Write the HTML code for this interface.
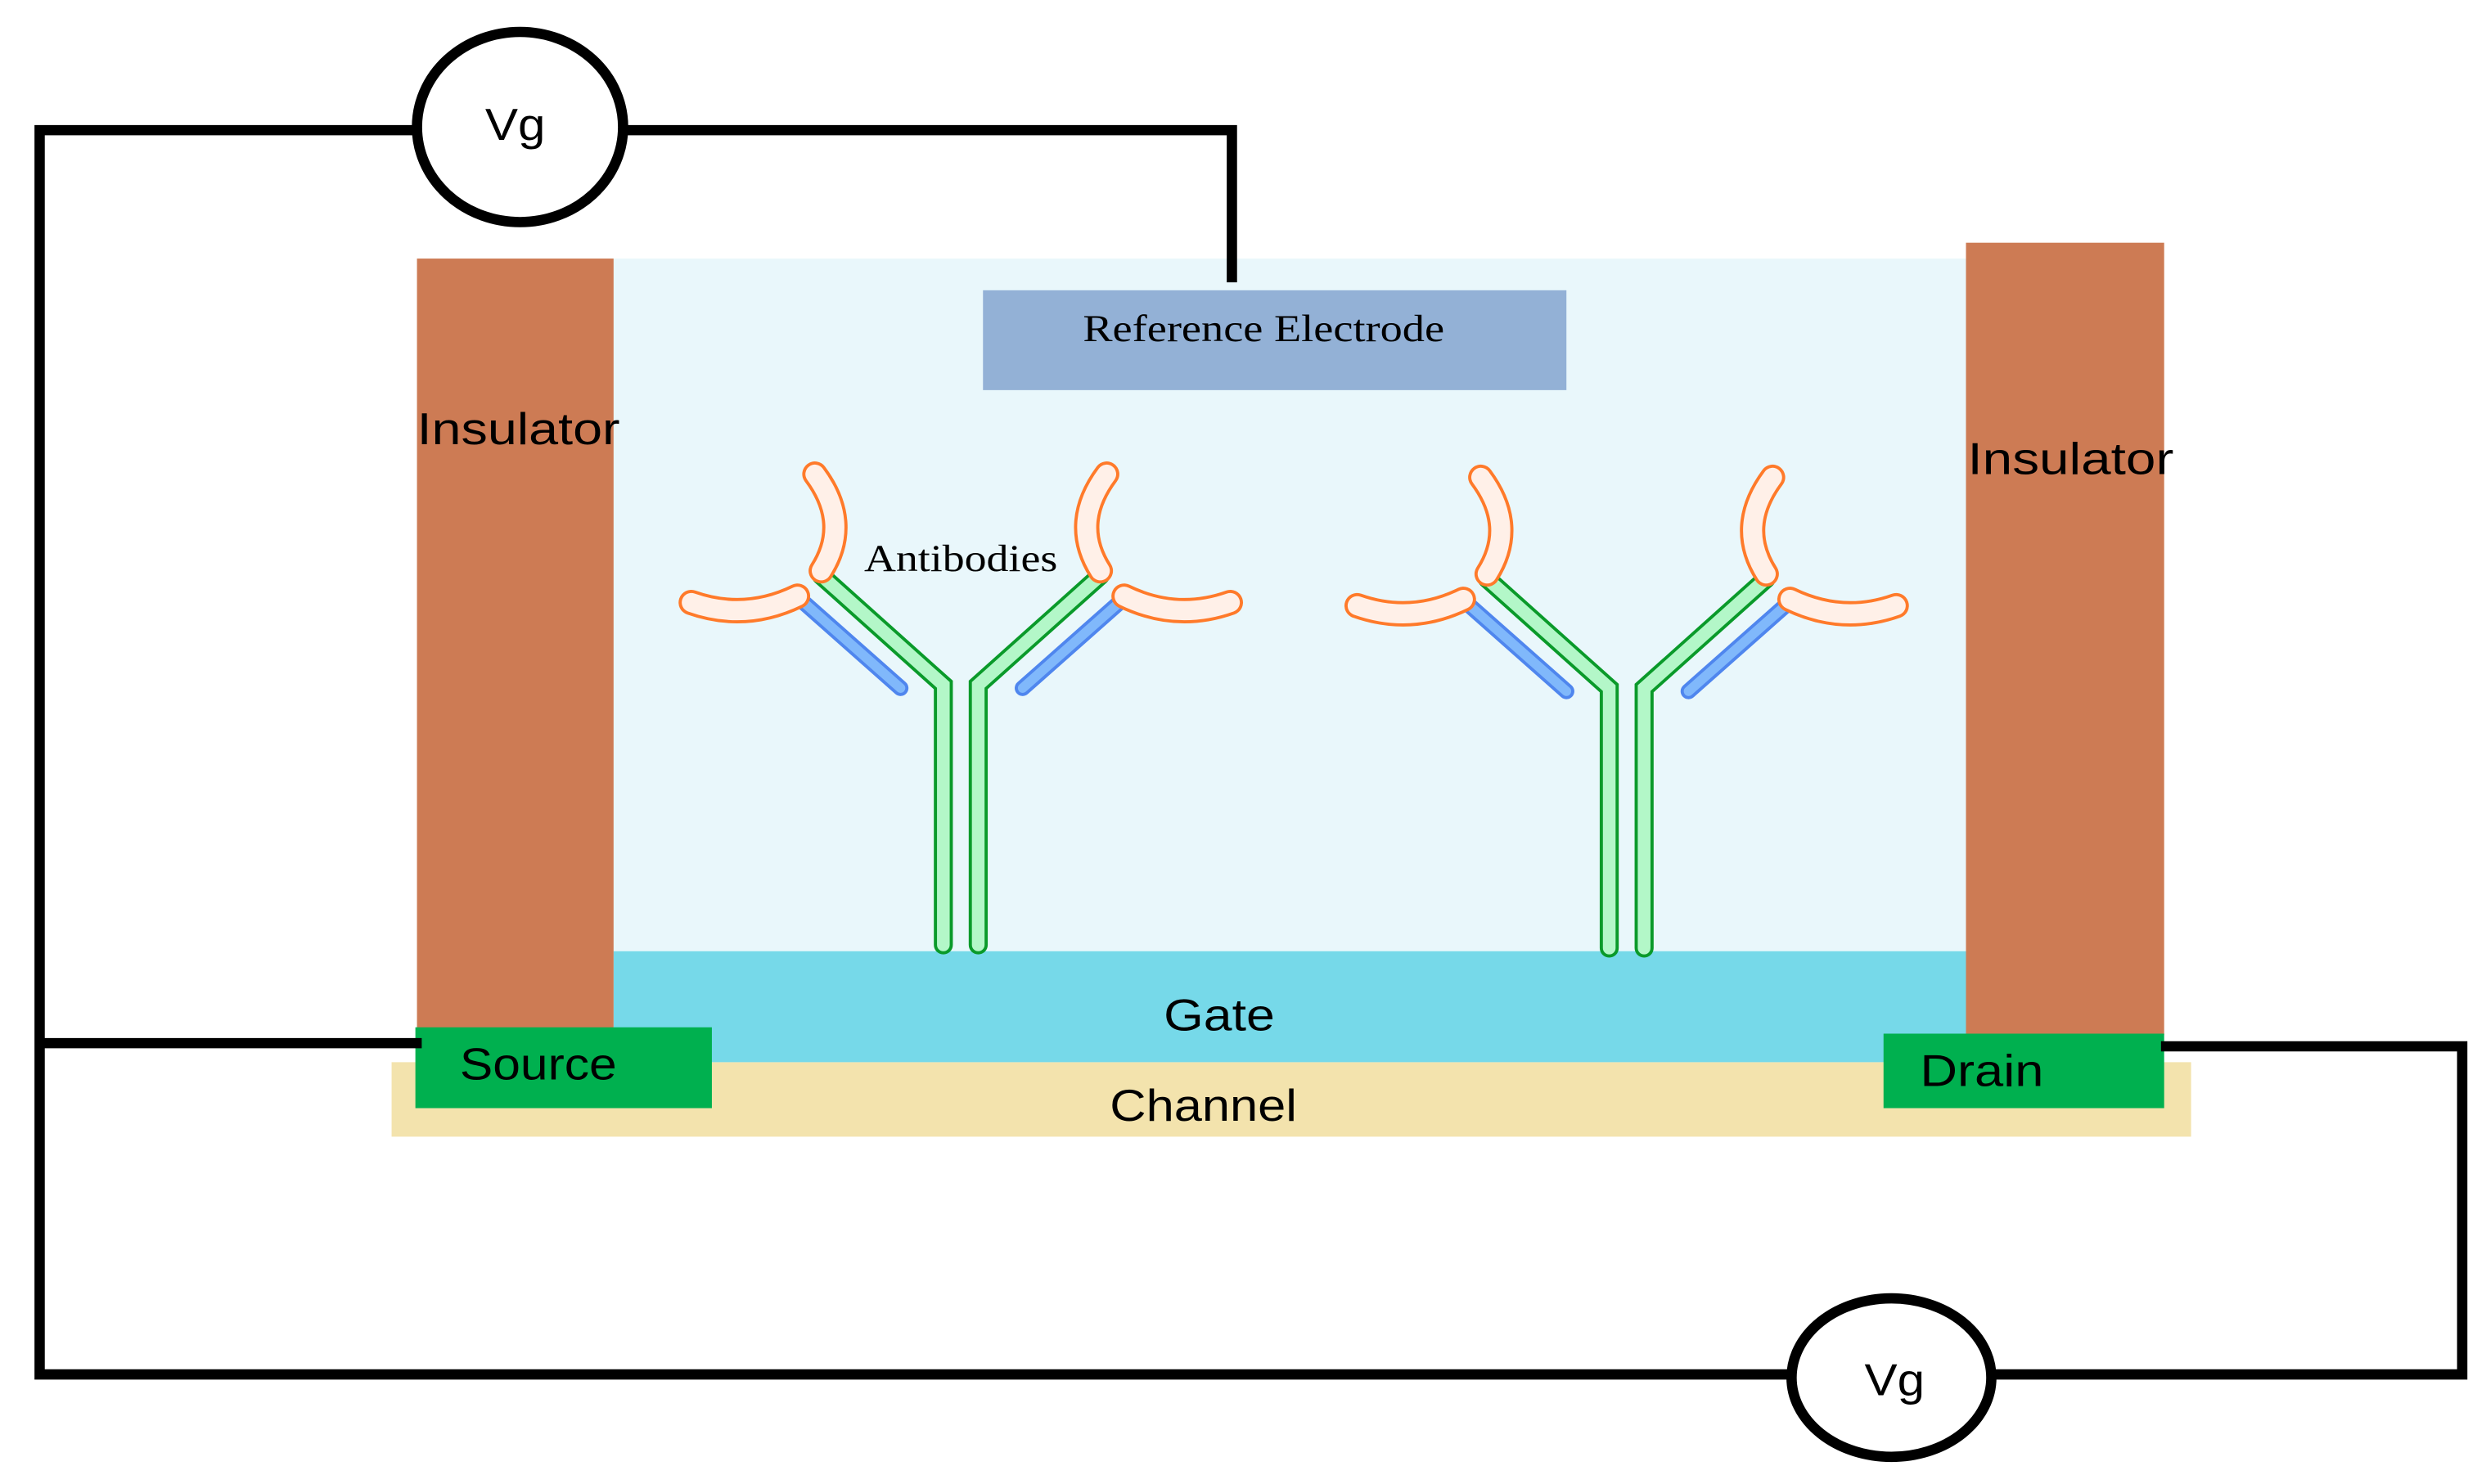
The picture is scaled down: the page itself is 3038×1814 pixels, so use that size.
<!DOCTYPE html>
<html><head><style>html,body{margin:0;padding:0;background:#fff}svg{display:block}</style></head>
<body>
<svg width="3038" height="1814" viewBox="0 0 1568 936" xmlns="http://www.w3.org/2000/svg" font-family="Liberation Sans, sans-serif">
<rect width="1568" height="936" fill="#fff"/>
<rect x="387" y="163" width="853" height="440" fill="#e9f7fb"/>
<rect x="247" y="670" width="1135" height="47" fill="#f3e3ad"/>
<rect x="387" y="600" width="853" height="70" fill="#76d9e9"/>
<rect x="263" y="163" width="124" height="486" fill="#cd7b54"/>
<rect x="1240" y="153" width="125" height="500" fill="#cd7b54"/>
<rect x="620" y="183" width="368" height="63" fill="#93b1d6"/>
<rect x="262" y="648" width="187" height="51" fill="#00b04f"/>
<rect x="1188" y="652" width="177" height="47" fill="#00b04f"/>
<g fill="none" stroke="#000" stroke-width="6.5" stroke-linejoin="miter">
<polyline points="262,82 25,82 25,867 1130,867"/>
<polyline points="1258,867 1553,867 1553,660 1363,660"/>
<line x1="25" y1="658" x2="266" y2="658"/>
<polyline points="393,82 777,82 777,178"/>
<ellipse cx="328" cy="80" rx="65" ry="60"/>
<ellipse cx="1193" cy="869" rx="63" ry="50"/>
</g>
<defs>
<g id="ab" fill="none" stroke-linecap="round">
<path d="M595,596 L595,432 L518,363" stroke="#0a9a2a" stroke-width="12"/>
<path d="M595,596 L595,432 L518,363" stroke="#b3f7c8" stroke-width="8"/>
<path d="M617,596 L617,432 L694,363" stroke="#0a9a2a" stroke-width="12"/>
<path d="M617,596 L617,432 L694,363" stroke="#b3f7c8" stroke-width="8"/>
<path d="M507,380 L568,434" stroke="#4f86ee" stroke-width="10"/>
<path d="M507,380 L568,434" stroke="#80b8fb" stroke-width="6"/>
<path d="M706,380 L645,434" stroke="#4f86ee" stroke-width="10"/>
<path d="M706,380 L645,434" stroke="#80b8fb" stroke-width="6"/>
<g stroke="#ff7a2a" stroke-width="16">
<path d="M514,299 Q537,330 518,360"/><path d="M436,380 Q470,392 503,376"/>
<path d="M698,299 Q675,330 694,360"/><path d="M776,380 Q742,392 709,376"/>
</g>
<g stroke="#fff0e8" stroke-width="12">
<path d="M514,299 Q537,330 518,360"/><path d="M436,380 Q470,392 503,376"/>
<path d="M698,299 Q675,330 694,360"/><path d="M776,380 Q742,392 709,376"/>
</g>
</g>
</defs>
<use href="#ab"/>
<use href="#ab" transform="translate(420,2)"/>
<g font-size="28" fill="#000">
<text x="263" y="280" textLength="128" lengthAdjust="spacingAndGlyphs">Insulator</text>
<text x="1241" y="299" textLength="130" lengthAdjust="spacingAndGlyphs">Insulator</text>
<text x="734" y="650" textLength="70" lengthAdjust="spacingAndGlyphs">Gate</text>
<text x="700" y="707" textLength="118" lengthAdjust="spacingAndGlyphs">Channel</text>
<text x="290" y="681" textLength="99" lengthAdjust="spacingAndGlyphs">Source</text>
<text x="1211" y="685" textLength="78" lengthAdjust="spacingAndGlyphs">Drain</text>
<text x="306" y="88" textLength="38" lengthAdjust="spacingAndGlyphs">Vg</text>
<text x="1176" y="880" textLength="38" lengthAdjust="spacingAndGlyphs">Vg</text>
</g>
<g font-family="Liberation Serif, serif" font-size="24" fill="#000">
<text x="683" y="215" textLength="228" lengthAdjust="spacingAndGlyphs">Reference Electrode</text>
<text x="545" y="360" textLength="122" lengthAdjust="spacingAndGlyphs">Antibodies</text>
</g>
</svg>
</body></html>
